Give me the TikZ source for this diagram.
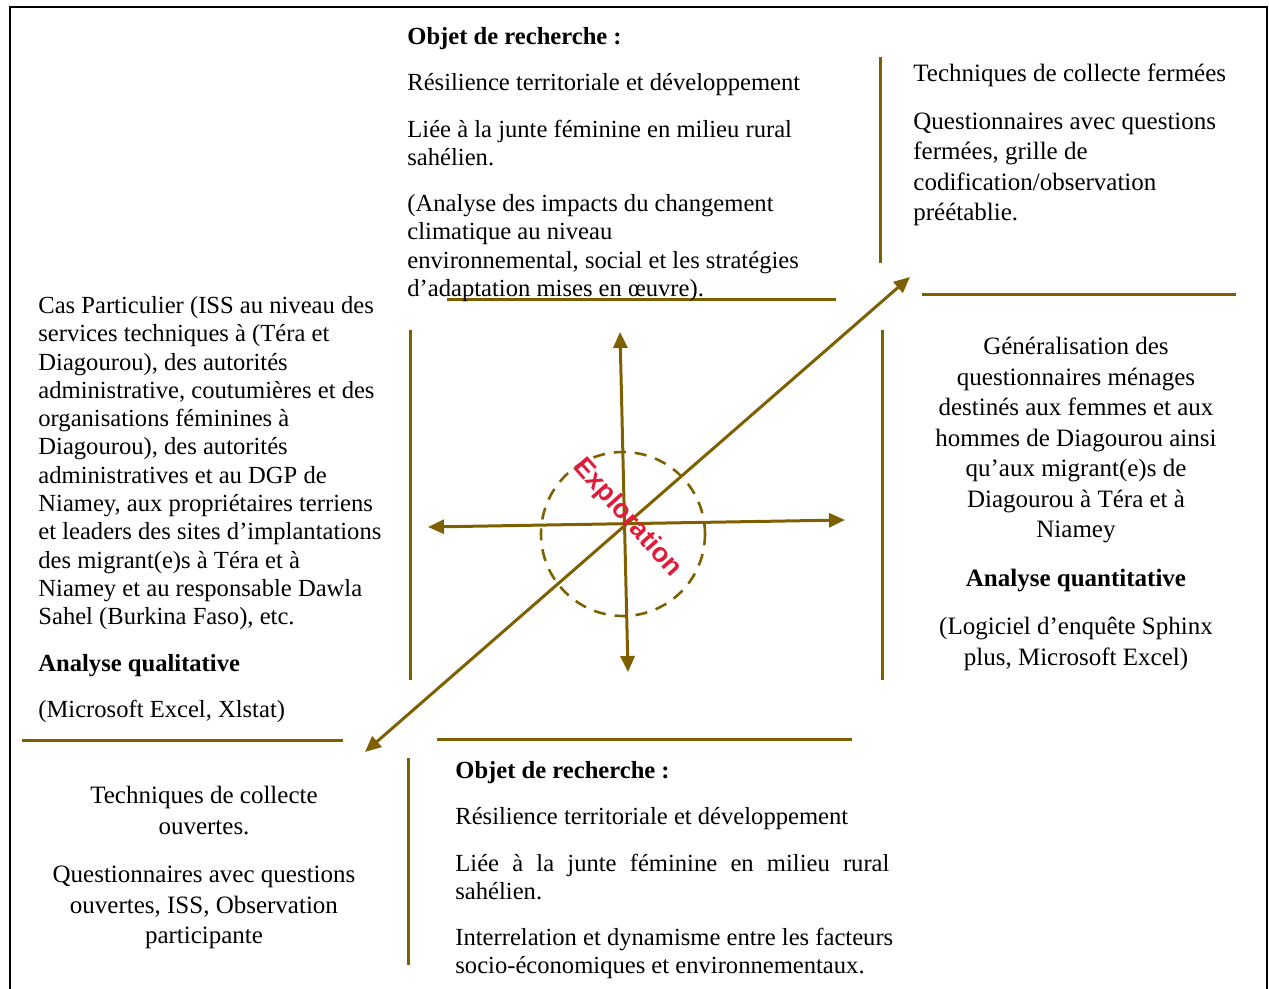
\documentclass[tikz,border=0pt]{standalone}
\usepackage{fontspec}
\setmainfont{Liberation Serif}
\newfontfamily\explofont{Liberation Sans}
\usepackage{xcolor}
\usetikzlibrary{arrows.meta}
\definecolor{goldbrown}{RGB}{127,96,0}
\definecolor{explored}{RGB}{224,28,58}

\begin{document}
\begin{tikzpicture}[
  x=0.5pt, y=-0.5pt,
  font=\fontsize{12.3}{14.15}\selectfont,
  sepline/.style={draw=goldbrown, line width=1.5pt},
  biarr/.style={draw=goldbrown, fill=goldbrown, line width=1.5pt,
                {Triangle[length=8pt,width=7pt]}-{Triangle[length=8pt,width=7pt]}},
  txtleft/.style={anchor=north west, inner sep=0pt, align=left},
  txtmid/.style={anchor=north, inner sep=0pt, align=center},
  wide/.style={font=\fontsize{12.5}{15.25}\selectfont}
]
\useasboundingbox (0,0) rectangle (1269,989);
%--- Frame ------------------------------------------------------------------
\draw[line width=1pt] (10,989) -- (10,7) -- (1267,7) -- (1267,989);
%--- Separating lines -------------------------------------------------------
\draw[sepline] (880,57)  -- (880,263);
\draw[sepline] (447,300) -- (836,300);
\draw[sepline] (922,295) -- (1236,295);
\draw[sepline] (410,330) -- (410,680);
\draw[sepline] (882,330) -- (882,680);
\draw[sepline] (22,740)  -- (343,740);
\draw[sepline] (437,739) -- (852,739);
\draw[sepline] (408,758) -- (408,965);
%--- Centre: exploration circle ---------------------------------------------
\node[circle, draw=goldbrown, line width=1.3pt, dash pattern=on 6pt off 4.5pt,
      minimum size=82pt, inner sep=0pt] (explo) at (623,534) {};
\coordinate (diagSW) at (365,752);
\coordinate (diagNE) at (910,277);
\coordinate (vertN)  at (620,332);
\coordinate (vertS)  at (628,672);
\coordinate (horW)   at (428,527);
\coordinate (horE)   at (845,520);
\draw[biarr] (diagSW) -- (diagNE);
\draw[biarr] (vertN) -- (vertS);
\draw[biarr] (horW) -- (horE);
\node[rotate=-48.5, text=explored, inner sep=0pt,
      font=\explofont\bfseries\fontsize{13.5}{15}\selectfont] (explabel) at (627,518) {Exploration};
%--- Top: object of research ------------------------------------------------
\node[txtleft] (objtop) at (407,27) {%
  \textbf{Objet de recherche :}\\[9pt]
  Résilience territoriale et développement\\[9pt]
  Liée à la junte féminine en milieu rural\\
  sahélien.\\[9pt]
  (Analyse des impacts du changement\\
  climatique au niveau\\
  environnemental, social et les stratégies\\
  d’adaptation mises en œuvre).%
};
%--- Top right: closed techniques -------------------------------------------
\node[txtleft, wide] (closed) at (913,63) {%
  Techniques de collecte fermées\\[9pt]
  Questionnaires avec questions\\
  fermées, grille de\\
  codification/observation\\
  préétablie.%
};
%--- Left: particular case --------------------------------------------------
\node[txtleft] (casepart) at (38,296) {%
  Cas Particulier (ISS au niveau des\\
  services techniques à (Téra et\\
  Diagourou), des autorités\\
  administrative, coutumières et des\\
  organisations féminines à\\
  Diagourou), des autorités\\
  administratives et au DGP de\\
  Niamey, aux propriétaires terriens\\
  et leaders des sites d’implantations\\
  des migrant(e)s à Téra et à\\
  Niamey et au responsable Dawla\\
  Sahel (Burkina Faso), etc.\\[9pt]
  \textbf{Analyse qualitative}\\[9pt]
  (Microsoft Excel, Xlstat)%
};
%--- Right: generalisation --------------------------------------------------
\node[txtmid, wide] (general) at (1076,337) {%
  Généralisation des\\
  questionnaires ménages\\
  destinés aux femmes et aux\\
  hommes de Diagourou ainsi\\
  qu’aux migrant(e)s de\\
  Diagourou à Téra et à\\
  Niamey\\[9pt]
  \textbf{Analyse quantitative}\\[9pt]
  (Logiciel d’enquête Sphinx\\
  plus, Microsoft Excel)%
};
%--- Bottom left: open techniques -------------------------------------------
\node[txtmid, wide] (opened) at (204,786) {%
  Techniques de collecte\\
  ouvertes.\\[9pt]
  Questionnaires avec questions\\
  ouvertes, ISS, Observation\\
  participante%
};
%--- Bottom: object of research ---------------------------------------------
\node[txtleft] (objbot) at (455,761) {%
  \textbf{Objet de recherche :}\\[9pt]
  Résilience territoriale et développement\\[9pt]
  \makebox[217pt][s]{Liée à la junte féminine en milieu rural}\\
  sahélien.\\[9pt]
  Interrelation et dynamisme entre les facteurs\\
  socio-économiques et environnementaux.%
};
\end{tikzpicture}
\end{document}
